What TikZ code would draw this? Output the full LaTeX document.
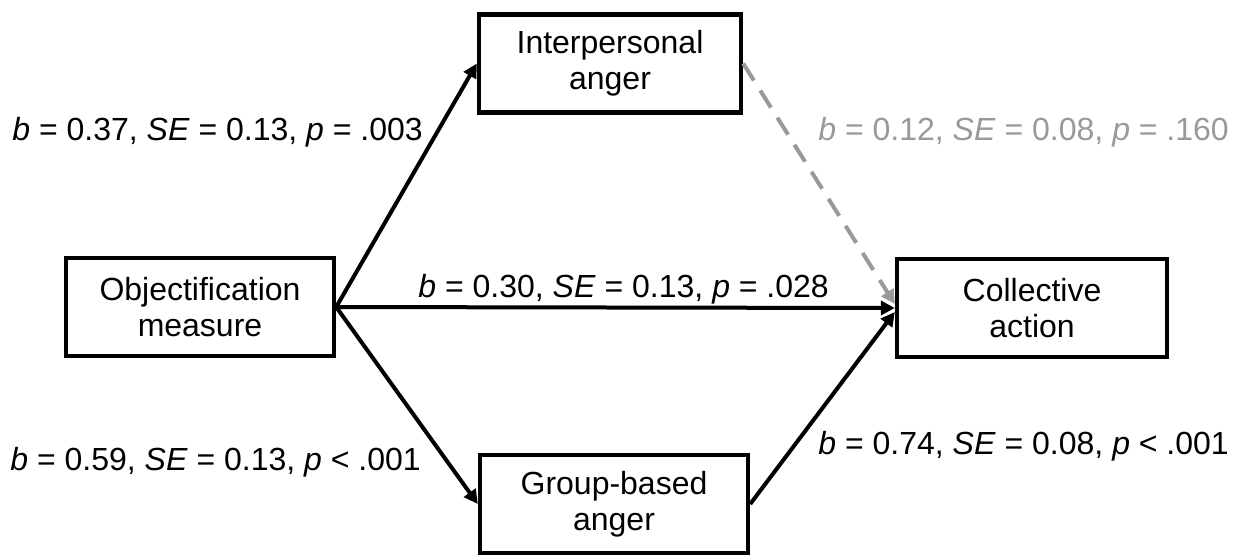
\documentclass[tikz,border=0pt]{standalone}
\usepackage{fontspec}
\setmainfont{Liberation Sans}
\usetikzlibrary{arrows.meta,positioning}
\definecolor{pathgray}{HTML}{999999}

\begin{document}
\begin{tikzpicture}[x=0.5pt, y=-0.5pt,
  varBox/.style ={rectangle, draw=black, line width=2.2pt, align=center, inner sep=0pt,
                  minimum width=134pt, minimum height=49pt, font=\fontsize{16}{18}\selectfont},
  pathArrow/.style ={line width=2pt, -{Triangle[length=7pt,width=7pt]}},
  pathLabel/.style ={font=\fontsize{16}{18}\selectfont, inner sep=0pt},
]
\useasboundingbox (0,0) rectangle (1240,554);

% variables
\node[varBox] (objmeas) at (200,307) {Objectification\\measure};
\node[varBox, minimum width=131pt] (interanger) at (610,63.5) {Interpersonal\\anger};
\node[varBox] (groupanger) at (614,504) {Group-based\\anger};
\node[varBox, minimum width=135pt] (collaction) at (1032,308) {Collective\\action};

% paths
\draw[pathArrow] (objmeas.east) -- (interanger.west);
\draw[pathArrow] (objmeas.east) -- (collaction.west);
\draw[pathArrow] (objmeas.east) -- (groupanger.west);
\draw[pathArrow] (groupanger.east) -- ([yshift=-2pt]collaction.west);
\draw[pathArrow, pathgray, dash pattern=on 10pt off 6pt] (interanger.east) -- ([yshift=2pt]collaction.west);

% coefficients
\node[pathLabel, anchor=west] (lblinter) at (12,132) {\textit{b} = 0.37, \textit{SE} = 0.13, \textit{p} = .003};
\node[pathLabel, anchor=west, text=pathgray] (lblcollinter) at (818,132) {\textit{b} = 0.12, \textit{SE} = 0.08, \textit{p} = .160};
\node[pathLabel, anchor=west] (lbldirect) at (418,289) {\textit{b} = 0.30, \textit{SE} = 0.13, \textit{p} = .028};
\node[pathLabel, anchor=west] (lblgroup) at (10,462) {\textit{b} = 0.59, \textit{SE} = 0.13, \textit{p} < .001};
\node[pathLabel, anchor=west] (lblcollgroup) at (818,446) {\textit{b} = 0.74, \textit{SE} = 0.08, \textit{p} < .001};
\end{tikzpicture}
\end{document}
